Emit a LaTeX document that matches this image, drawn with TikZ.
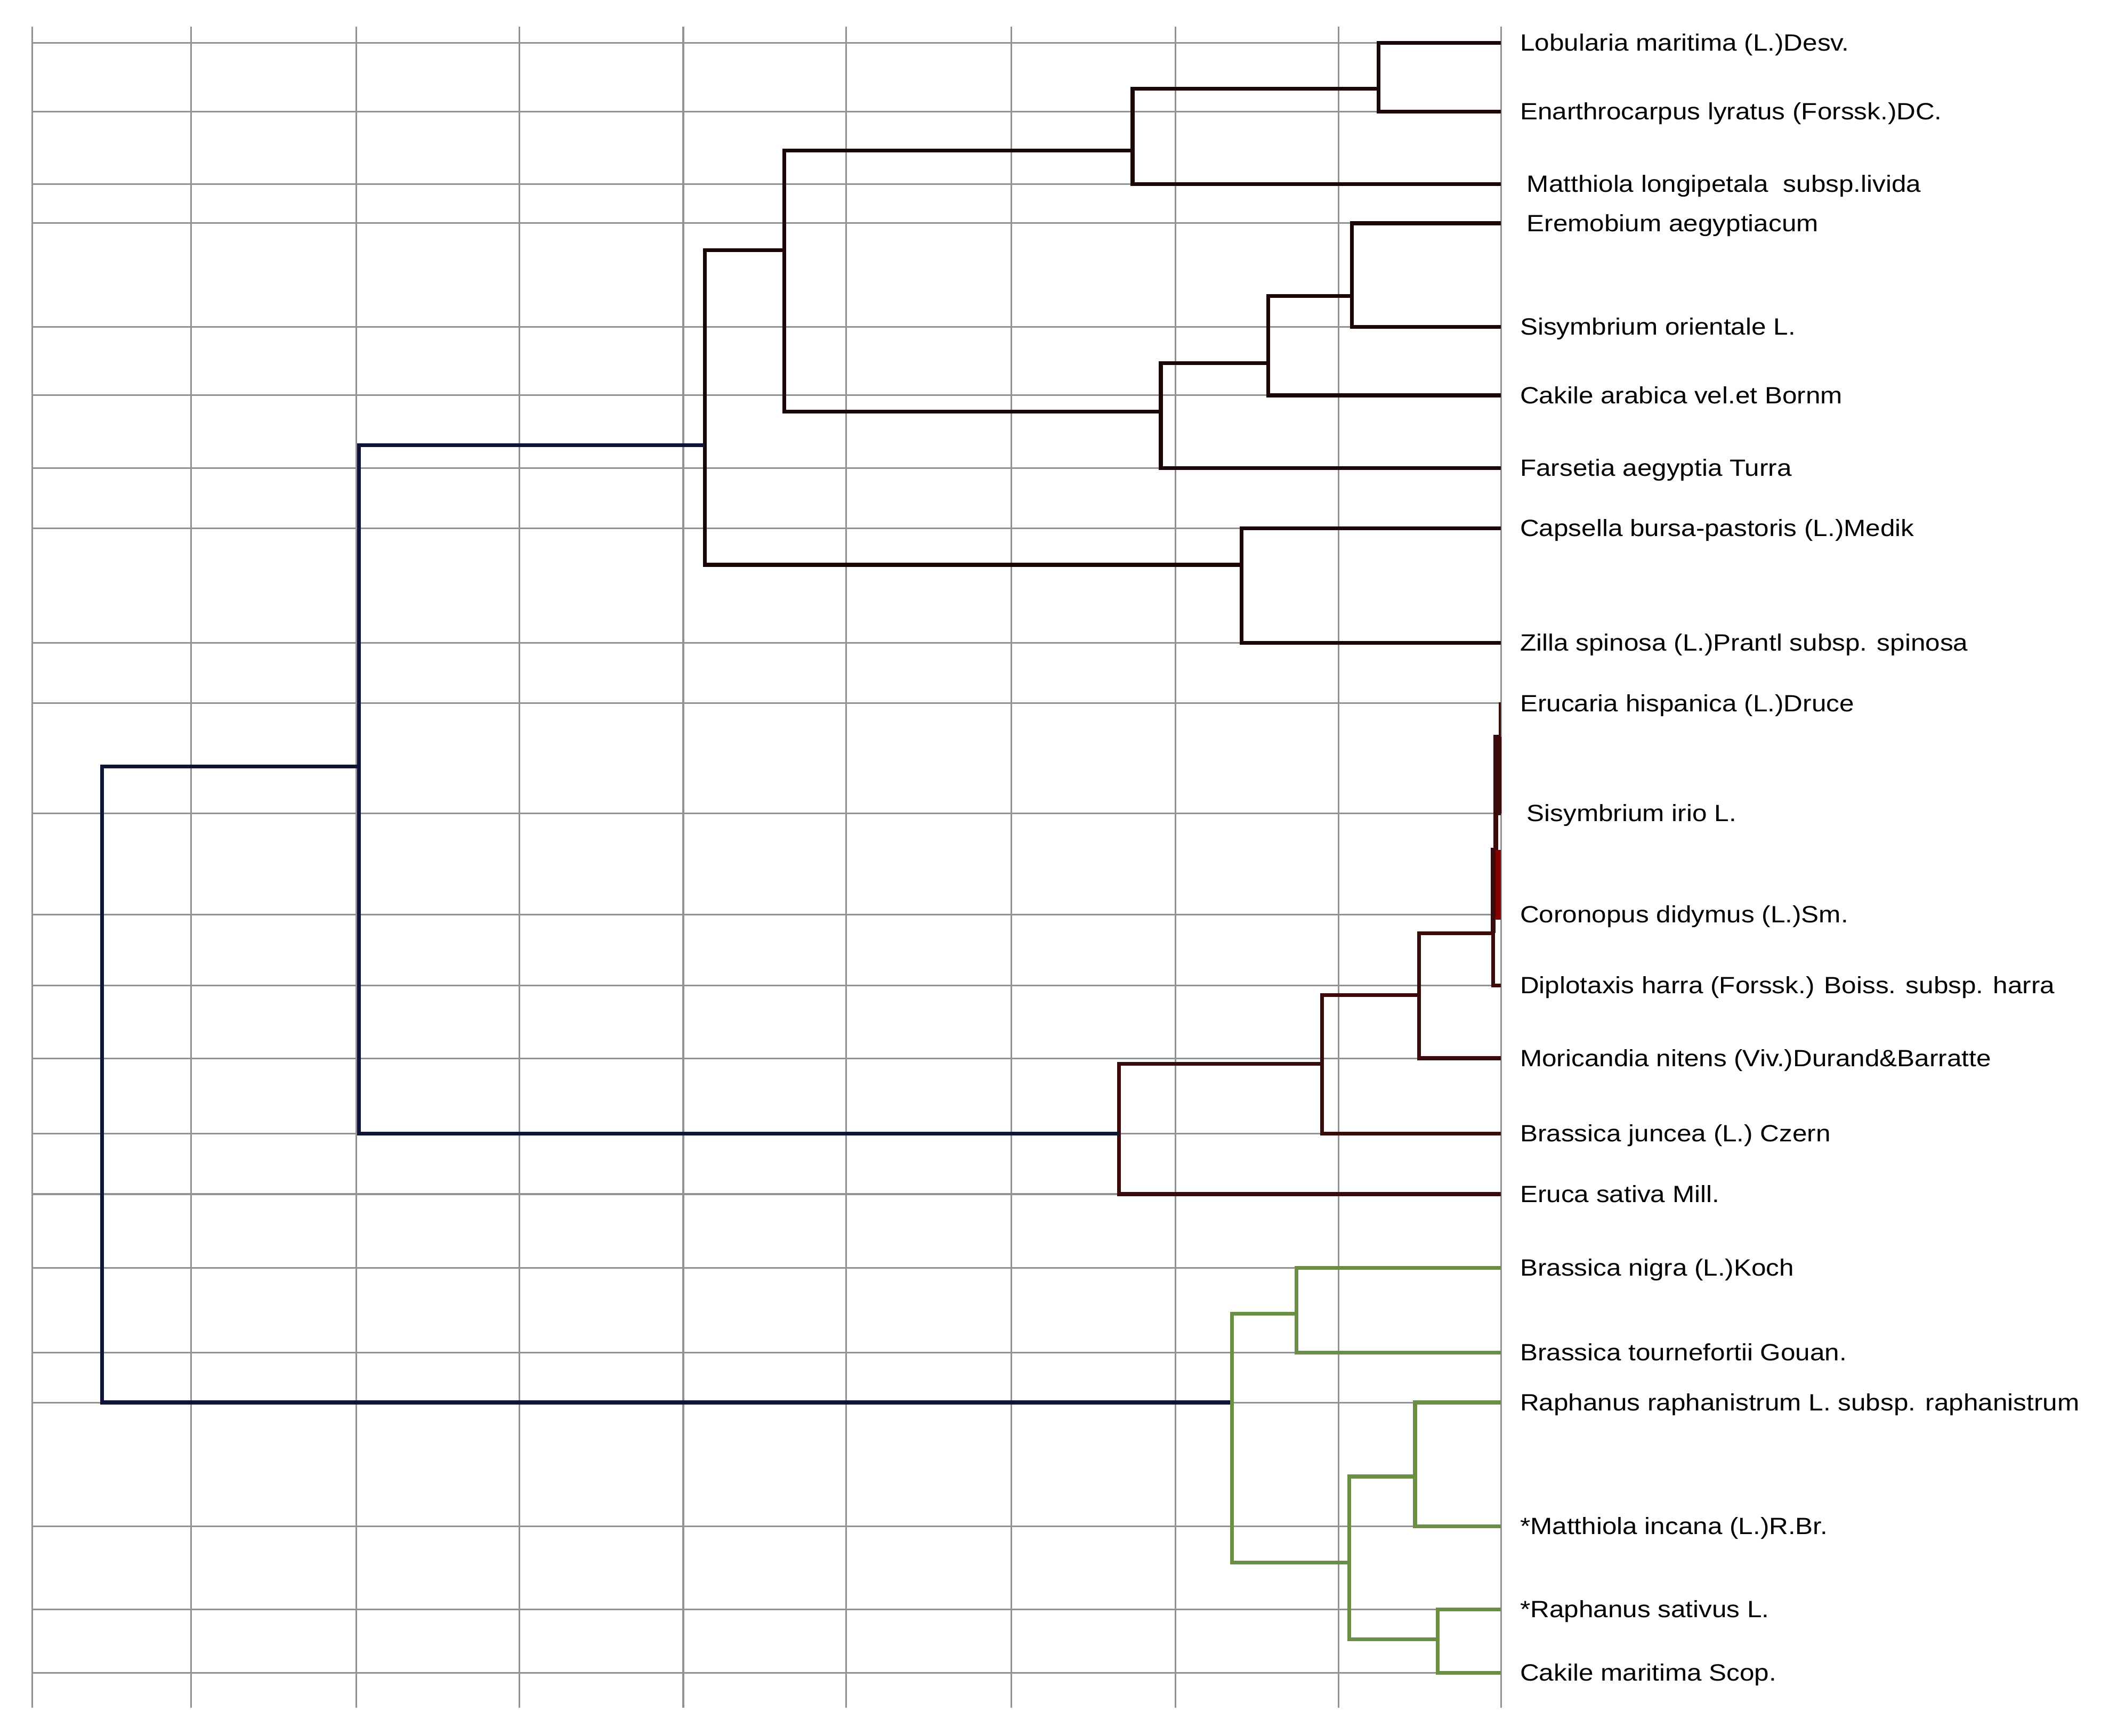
\documentclass[tikz,border=0pt]{standalone}
\usepackage{fontspec}
\setmainfont[FakeStretch=1.12]{Liberation Sans}
\definecolor{gridc}{HTML}{929292}
\definecolor{darkc}{HTML}{1C0505}
\definecolor{brownc}{HTML}{3A0B0B}
\definecolor{navyc}{HTML}{101538}
\definecolor{greenc}{HTML}{6B8E45}
\definecolor{redc}{HTML}{850000}
\begin{document}
\begin{tikzpicture}[x=1pt,y=-1pt,
  gridline/.style={draw=gridc,line width=1.2pt},
  br/.style={line width=2.9pt,line join=miter},
  dk/.style={br,draw=darkc},
  bw/.style={br,draw=brownc},
  nv/.style={br,draw=navyc},
  gr/.style={br,draw=greenc},
  lab/.style={anchor=base west,inner sep=0pt,font=\fontsize{17.5}{20}\selectfont,text=black}]
\useasboundingbox[fill=white] (0,0) rectangle (1568,1291);
% grid
\foreach \gx in {24,142,265,386,508,629,752,874,995,1116}
  \draw[gridline] (\gx,20) -- (\gx,1270);
\foreach \gy in {32,83,137,166,243,294,348,393,478,523,605,680,733,787,843,888,943,1006,1043,1135,1197,1244}
  \draw[gridline] (24,\gy) -- (1116,\gy);
% leaves
\coordinate (l1) at (1116,32);
\coordinate (l2) at (1116,83);
\coordinate (l3) at (1116,137);
\coordinate (l4) at (1116,166);
\coordinate (l5) at (1116,243);
\coordinate (l6) at (1116,294);
\coordinate (l7) at (1116,348);
\coordinate (l8) at (1116,393);
\coordinate (l9) at (1116,478);
\coordinate (l10) at (1116,523);
\coordinate (l11) at (1116,605);
\coordinate (l12) at (1116,680);
\coordinate (l13) at (1116,733);
\coordinate (l14) at (1116,787);
\coordinate (l15) at (1116,843);
\coordinate (l16) at (1116,888);
\coordinate (l17) at (1116,943);
\coordinate (l18) at (1116,1006);
\coordinate (l19) at (1116,1043);
\coordinate (l20) at (1116,1135);
\coordinate (l21) at (1116,1197);
\coordinate (l22) at (1116,1244);
% internal nodes
\coordinate (nA) at (1025,66);
\coordinate (nB) at (842,112);
\coordinate (nC) at (1005,220);
\coordinate (nD) at (943,270);
\coordinate (nE) at (863,306);
\coordinate (nF) at (583,186);
\coordinate (nG) at (923,420);
\coordinate (nH) at (524,331);
\coordinate (nR1) at (1115,548);
\coordinate (nR2) at (1112,632);
\coordinate (nR3) at (1110,694);
\coordinate (nJ) at (1055,740);
\coordinate (nK) at (983,791);
\coordinate (nM) at (832,843);
\coordinate (nN) at (267,570);
\coordinate (nP) at (964,977);
\coordinate (nQ) at (1052,1098);
\coordinate (nS) at (1069,1219);
\coordinate (nT) at (1003,1162);
\coordinate (nU) at (916,1043);
\coordinate (nRoot) at (76,800);
% top cluster
\draw[dk] (nA) |- (l1);
\draw[dk] (nA) |- (l2);
\draw[dk] (nB) |- (nA);
\draw[dk] (nB) |- (l3);
\draw[dk] (nC) |- (l4);
\draw[dk] (nC) |- (l5);
\draw[dk] (nD) |- (nC);
\draw[dk] (nD) |- (l6);
\draw[dk] (nE) |- (nD);
\draw[dk] (nE) |- (l7);
\draw[dk] (nF) |- (nB);
\draw[dk] (nF) |- (nE);
\draw[dk] (nG) |- (l8);
\draw[dk] (nG) |- (l9);
\draw[dk] (nH) |- (nF);
\draw[dk] (nH) |- (nG);
% second cluster
\draw[bw,line width=1.8pt] (nR1) |- (l10);
\draw[bw,line width=2.2pt] (nR1) |- (l11);
\draw[bw,line width=3.5pt] (nR2) |- (nR1);
\draw[br,draw=redc,line width=7.5pt] (nR2) |- (l12);
\draw[bw,line width=3.5pt] (nR3) |- (nR2);
\draw[bw] (nR3) |- (l13);
\draw[bw] (nJ) |- (nR3);
\draw[bw] (nJ) |- (l14);
\draw[bw] (nK) |- (nJ);
\draw[bw] (nK) |- (l15);
\draw[bw] (nM) |- (nK);
\draw[bw] (nM) |- (l16);
% navy
\draw[nv] (nN) |- (nH);
\draw[nv] (nN) |- (nM);
\draw[nv] (nRoot) |- (nN);
\draw[nv] (nRoot) |- (nU);
% green cluster
\draw[gr] (nP) |- (l17);
\draw[gr] (nP) |- (l18);
\draw[gr] (nQ) |- (l19);
\draw[gr] (nQ) |- (l20);
\draw[gr] (nS) |- (l21);
\draw[gr] (nS) |- (l22);
\draw[gr] (nT) |- (nQ);
\draw[gr] (nT) |- (nS);
\draw[gr] (nU) |- (nP);
\draw[gr] (nU) |- (nT);
% labels
\node[lab] (t1) at (1130,38) {Lobularia maritima (L.)Desv.};
\node[lab] (t2) at (1130,89) {Enarthrocarpus lyratus (Forssk.)DC.};
\node[lab] (t3) at (1135,143) {Matthiola longipetala~ subsp.livida};
\node[lab] (t4) at (1135,172) {Eremobium aegyptiacum};
\node[lab] (t5) at (1130,249) {Sisymbrium orientale L.};
\node[lab] (t6) at (1130,300) {Cakile arabica vel.et Bornm};
\node[lab] (t7) at (1130,354) {Farsetia aegyptia Turra};
\node[lab] (t8) at (1130,399) {Capsella bursa-pastoris (L.)Medik};
\node[lab] (t9) at (1130,484) {Zilla spinosa (L.)Prantl subsp. spinosa};
\node[lab] (t10) at (1130,529) {Erucaria hispanica (L.)Druce};
\node[lab] (t11) at (1135,611) {Sisymbrium irio L.};
\node[lab] (t12) at (1130,686) {Coronopus didymus (L.)Sm.};
\node[lab] (t13) at (1130,739) {Diplotaxis harra (Forssk.) Boiss. subsp. harra};
\node[lab] (t14) at (1130,793) {Moricandia nitens (Viv.)Durand\&Barratte};
\node[lab] (t15) at (1130,849) {Brassica juncea (L.) Czern};
\node[lab] (t16) at (1130,894) {Eruca sativa Mill.};
\node[lab] (t17) at (1130,949) {Brassica nigra (L.)Koch};
\node[lab] (t18) at (1130,1012) {Brassica tournefortii Gouan.};
\node[lab] (t19) at (1130,1049) {Raphanus raphanistrum L. subsp. raphanistrum};
\node[lab] (t20) at (1130,1141) {*Matthiola incana (L.)R.Br.};
\node[lab] (t21) at (1130,1203) {*Raphanus sativus L.};
\node[lab] (t22) at (1130,1250) {Cakile maritima Scop.};
\end{tikzpicture}
\end{document}
